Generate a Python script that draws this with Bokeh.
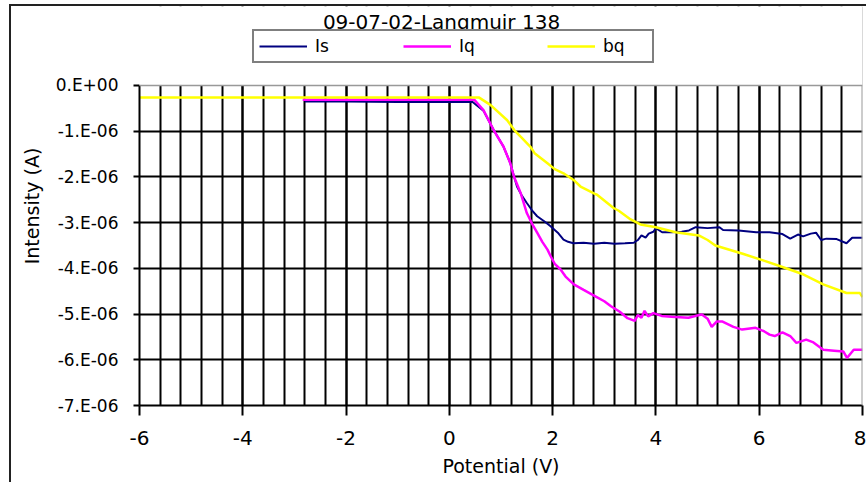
from bokeh.plotting import figure
from bokeh.models import Range1d, FixedTicker, Legend, LegendItem, Label, Span, BoxAnnotation
from bokeh.embed import file_html
from bokeh.resources import INLINE

# ---- data (current in microamps, potential in V) ----
title_text = "09-07-02-Langmuir 138"
series_names = ["Is", "Iq", "bq"]

is_v = [-2.8, -2.0, -1.0, 0.0, 0.45, 0.66, 0.86, 1.05, 1.18, 1.25, 1.31, 1.40, 1.50, 1.60,
        1.70, 1.85, 1.96, 2.10, 2.21, 2.30, 2.40, 2.6, 2.8, 3.0, 3.2, 3.4, 3.57, 3.65, 3.72,
        3.8, 3.86, 3.95, 4.0, 4.12, 4.3, 4.5, 4.64, 4.77, 5.0, 5.23, 5.3, 5.6, 5.94, 6.2,
        6.45, 6.6, 6.75, 6.85, 7.0, 7.1, 7.2, 7.3, 7.5, 7.69, 7.8, 8.0]
is_ua = [-0.35, -0.35, -0.36, -0.36, -0.36, -0.55, -0.98, -1.34, -1.70, -1.98, -2.21, -2.40,
         -2.57, -2.73, -2.86, -2.98, -3.08, -3.22, -3.37, -3.42, -3.45, -3.44, -3.46, -3.44,
         -3.46, -3.45, -3.44, -3.38, -3.28, -3.33, -3.24, -3.20, -3.12, -3.21, -3.21, -3.20,
         -3.17, -3.10, -3.12, -3.10, -3.16, -3.17, -3.21, -3.21, -3.25, -3.35, -3.26, -3.30,
         -3.24, -3.22, -3.38, -3.35, -3.36, -3.45, -3.33, -3.33]

iq_v = [-2.84, -1.5, 0.0, 0.48, 0.66, 0.86, 1.05, 1.18, 1.25, 1.38, 1.50, 1.60, 1.70, 1.80,
        1.90, 1.96, 2.04, 2.15, 2.25, 2.41, 2.6, 2.81, 3.0, 3.13, 3.3, 3.45, 3.59, 3.65, 3.72,
        3.78, 3.85, 3.95, 4.11, 4.3, 4.63, 4.8, 4.89, 5.0, 5.08, 5.18, 5.28, 5.5, 5.67, 5.93,
        6.1, 6.2, 6.3, 6.45, 6.6, 6.72, 6.91, 7.05, 7.24, 7.45, 7.63, 7.70, 7.83, 8.0]
iq_ua = [-0.31, -0.31, -0.31, -0.31, -0.54, -0.98, -1.34, -1.70, -1.99, -2.35, -2.79, -3.02,
         -3.22, -3.42, -3.59, -3.73, -3.90, -4.02, -4.18, -4.35, -4.47, -4.60, -4.72, -4.83,
         -4.95, -5.09, -5.15, -5.02, -5.08, -4.93, -5.05, -4.98, -5.04, -5.06, -5.08, -5.03,
         -5.01, -5.10, -5.28, -5.16, -5.16, -5.28, -5.34, -5.30, -5.38, -5.45, -5.48, -5.40,
         -5.48, -5.63, -5.56, -5.62, -5.78, -5.80, -5.82, -5.96, -5.78, -5.78]

bq_v = [-6.0, -3.0, 0.0, 0.57, 0.80, 1.12, 1.26, 1.38, 1.57, 1.65, 1.90, 2.04, 2.21, 2.42,
        2.54, 2.82, 2.86, 3.18, 3.28, 3.51, 3.70, 4.0, 4.38, 4.83, 5.0, 5.15, 5.68, 6.06,
        6.45, 6.85, 7.24, 7.69, 7.95, 8.0]
bq_ua = [-0.26, -0.26, -0.26, -0.26, -0.43, -0.76, -0.98, -1.12, -1.34, -1.48, -1.70, -1.83,
         -1.92, -2.08, -2.21, -2.37, -2.39, -2.68, -2.74, -2.93, -3.04, -3.10, -3.21, -3.28,
         -3.38, -3.50, -3.68, -3.82, -3.97, -4.13, -4.35, -4.54, -4.54, -4.63]

x_ticks = [-6, -4, -2, 0, 2, 4, 6, 8]
x_tick_labels = ["-6", "-4", "-2", "0", "2", "4", "6", "8"]
x_grid_ticks = [round(-6 + 0.4 * k, 2) for k in range(36)]
y_ticks = [0, -1, -2, -3, -4, -5, -6, -7]
y_tick_labels = ["0.E+00", "-1.E-06", "-2.E-06", "-3.E-06", "-4.E-06", "-5.E-06", "-6.E-06", "-7.E-06"]
x_label = "Potential (V)"
y_label = "Intensity (A)"
colors = ["#000080", "#FF00FF", "#FFFF00"]

FONT = "DejaVu Sans"
Y_MIN, Y_MAX = -7, 0
Y_HEADROOM = 1.728   # space above the plot area for the title and legend

p = figure(width=857, height=478, output_backend="svg", toolbar_location=None,
           x_range=Range1d(-6, 8), y_range=Range1d(Y_MIN, Y_MAX + Y_HEADROOM),
           min_border_left=128, min_border_right=6, min_border_top=0, min_border_bottom=79)
p.styles = {"margin-left": "9px", "margin-top": "4px",
            "border-left": "2px solid #222", "border-top": "2px solid #222"}
p.background_fill_color = "white"
p.border_fill_color = "white"
p.outline_line_color = None

# grid
p.xaxis.ticker = FixedTicker(ticks=x_ticks, minor_ticks=x_grid_ticks)
p.yaxis.ticker = FixedTicker(ticks=y_ticks)
p.ygrid.ticker = FixedTicker(ticks=y_ticks[1:])
p.xgrid.grid_line_color = "black"
p.xgrid.grid_line_width = 2
p.xgrid.minor_grid_line_color = "black"
p.xgrid.minor_grid_line_width = 2
p.ygrid.grid_line_color = "black"
p.ygrid.grid_line_width = 2

# axes
for ax in (p.xaxis, p.yaxis):
    ax.axis_line_color = "black"
    ax.axis_line_width = 2
    ax.major_tick_line_color = "black"
    ax.major_tick_line_width = 2
    ax.major_tick_in = 0
    ax.minor_tick_in = 0
    ax.minor_tick_out = 0
    ax.major_label_text_font = FONT
    ax.major_label_text_color = "black"
    ax.axis_label_text_font = FONT
    ax.axis_label_text_font_style = "normal"
    ax.axis_label_text_color = "black"

p.yaxis.bounds = (Y_MIN, Y_MAX)

p.xaxis.major_tick_out = 10
p.xaxis.major_label_text_font_size = "20px"
p.xaxis.major_label_standoff = 15
p.xaxis.major_label_overrides = {t: lab for t, lab in zip(x_ticks, x_tick_labels)}
p.xaxis.axis_label = x_label
p.xaxis.axis_label_text_font_size = "19px"
p.xaxis.axis_label_standoff = 7

p.yaxis.major_tick_out = 6
p.yaxis.major_label_text_font_size = "17px"
p.yaxis.major_label_standoff = 15
p.yaxis.major_label_overrides = {t: lab for t, lab in zip(y_ticks, y_tick_labels)}
p.yaxis.axis_label = y_label
p.yaxis.axis_label_text_font_size = "19px"
p.yaxis.axis_label_standoff = 10

# series
r_is = p.line(is_v, is_ua, line_color=colors[0], line_width=2)
r_iq = p.line(iq_v, iq_ua, line_color=colors[1], line_width=2.5)
r_bq = p.line(bq_v, bq_ua, line_color=colors[2], line_width=2.5)

# plot-area edges (right and top), then mask the headroom above the plot area
p.add_layout(Span(location=8, dimension="height", line_color="#999999", line_width=2))
p.add_layout(BoxAnnotation(bottom=Y_MAX, fill_color="white", fill_alpha=1,
                           line_color=None, line_alpha=0))
p.add_layout(Span(location=Y_MAX, dimension="width", line_color="#999999", line_width=1.5))

legend = Legend(items=[LegendItem(label=series_names[0], renderers=[r_is]),
                       LegendItem(label=series_names[1], renderers=[r_iq]),
                       LegendItem(label=series_names[2], renderers=[r_bq])],
                location=(113, 342), orientation="horizontal",
                padding=5, spacing=44, glyph_width=48, glyph_height=18,
                label_width=44, label_height=19, label_standoff=8, margin=0,
                border_line_color="black", border_line_width=2,
                background_fill_color="white", background_fill_alpha=1,
                label_text_font=FONT, label_text_font_size="17px", label_text_color="black")
p.add_layout(legend, "center")

title = Label(x=302, y=396, x_units="screen", y_units="screen", text=title_text,
              text_align="center", text_baseline="top", text_font=FONT,
              text_font_size="20px", text_color="black")
p.add_layout(title)

open("out.html", "w").write(file_html(p, INLINE))
